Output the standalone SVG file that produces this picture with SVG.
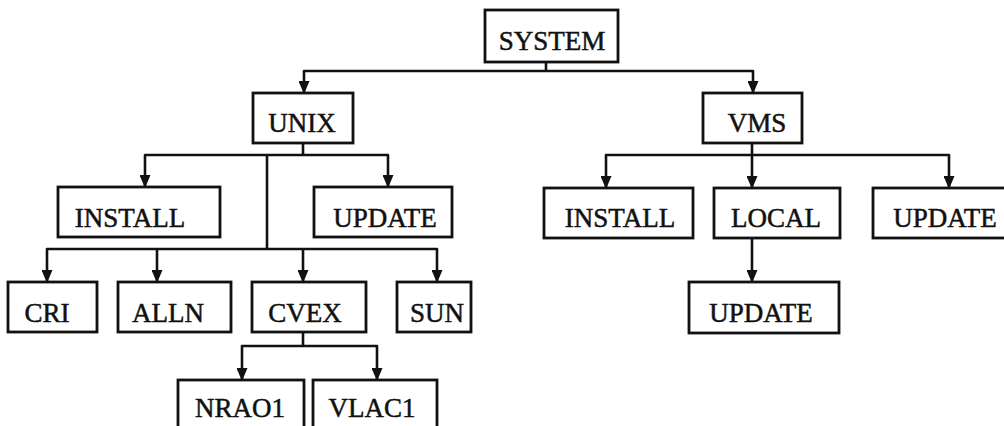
<svg xmlns="http://www.w3.org/2000/svg" width="1004" height="426" viewBox="0 0 1004 426">
<defs>
<marker id="ah" markerUnits="userSpaceOnUse" viewBox="0 0 13 11" markerWidth="13" markerHeight="11" refX="12" refY="5.5" orient="auto">
<path d="M0,0 L13,5.5 L0,11 z" fill="#111"/>
</marker>
<style>
.box{fill:#fff;stroke:#111;stroke-width:2.8}
.lbl{font-family:"Liberation Serif","DejaVu Serif",serif;font-size:27px;fill:#111;stroke:#111;stroke-width:0.5;text-anchor:middle}
.c{fill:none;stroke:#111;stroke-width:2.6;stroke-linejoin:round}
.a{marker-end:url(#ah)}
</style>
</defs>
<rect width="1004" height="426" fill="#fff"/>
<g id="connectors">
<path class="c" d="M546,62 V71"/>
<path class="c a" d="M546,71 H304 V93"/>
<path class="c a" d="M546,71 H753 V93"/>
<path class="c" d="M303,143 V155"/>
<path class="c a" d="M303,155 H145 V187"/>
<path class="c a" d="M303,155 H388 V187"/>
<path class="c" d="M267,155 V249"/>
<path class="c a" d="M267,249 H47 V282"/>
<path class="c a" d="M157,249 V282"/>
<path class="c a" d="M267,249 H437 V282"/>
<path class="c a" d="M303,249 V282"/>
<path class="c" d="M303,332 V346"/>
<path class="c a" d="M303,346 H242 V380"/>
<path class="c a" d="M303,346 H377 V380"/>
<path class="c" d="M752,143 V155"/>
<path class="c a" d="M752,155 H606 V188"/>
<path class="c a" d="M752,155 V188"/>
<path class="c a" d="M752,155 H949 V188"/>
<path class="c a" d="M752,238 V282"/>
</g>
<g id="system"><rect class="box" x="485" y="10" width="133" height="52"/><text class="lbl" x="552" y="50">SYSTEM</text></g>
<g id="unix"><rect class="box" x="253" y="93" width="100" height="50"/><text class="lbl" x="302" y="132">UNIX</text></g>
<g id="vms"><rect class="box" x="703" y="93" width="99" height="50"/><text class="lbl" x="757" y="132">VMS</text></g>
<g id="unix-install"><rect class="box" x="58" y="187" width="162" height="50"/><text class="lbl" x="130" y="227">INSTALL</text></g>
<g id="unix-update"><rect class="box" x="314" y="187" width="138" height="50"/><text class="lbl" x="385" y="227">UPDATE</text></g>
<g id="vms-install"><rect class="box" x="544" y="188" width="149" height="50"/><text class="lbl" x="620" y="227">INSTALL</text></g>
<g id="vms-local"><rect class="box" x="714" y="188" width="126" height="50"/><text class="lbl" x="776" y="227">LOCAL</text></g>
<g id="vms-update"><rect class="box" x="873" y="188" width="140" height="50"/><text class="lbl" x="945" y="227">UPDATE</text></g>
<g id="cri"><rect class="box" x="8" y="282" width="89" height="50"/><text class="lbl" x="47" y="322">CRI</text></g>
<g id="alln"><rect class="box" x="118" y="282" width="113" height="50"/><text class="lbl" x="168" y="322">ALLN</text></g>
<g id="cvex"><rect class="box" x="252" y="282" width="114" height="50"/><text class="lbl" x="305" y="322">CVEX</text></g>
<g id="sun"><rect class="box" x="397" y="282" width="74" height="50"/><text class="lbl" x="437" y="322">SUN</text></g>
<g id="local-update"><rect class="box" x="689" y="282" width="150" height="51"/><text class="lbl" x="761" y="322">UPDATE</text></g>
<g id="nrao1"><rect class="box" x="178" y="380" width="126" height="52"/><text class="lbl" x="240" y="417">NRAO1</text></g>
<g id="vlac1"><rect class="box" x="313" y="380" width="124" height="52"/><text class="lbl" x="372" y="417">VLAC1</text></g>
</svg>
